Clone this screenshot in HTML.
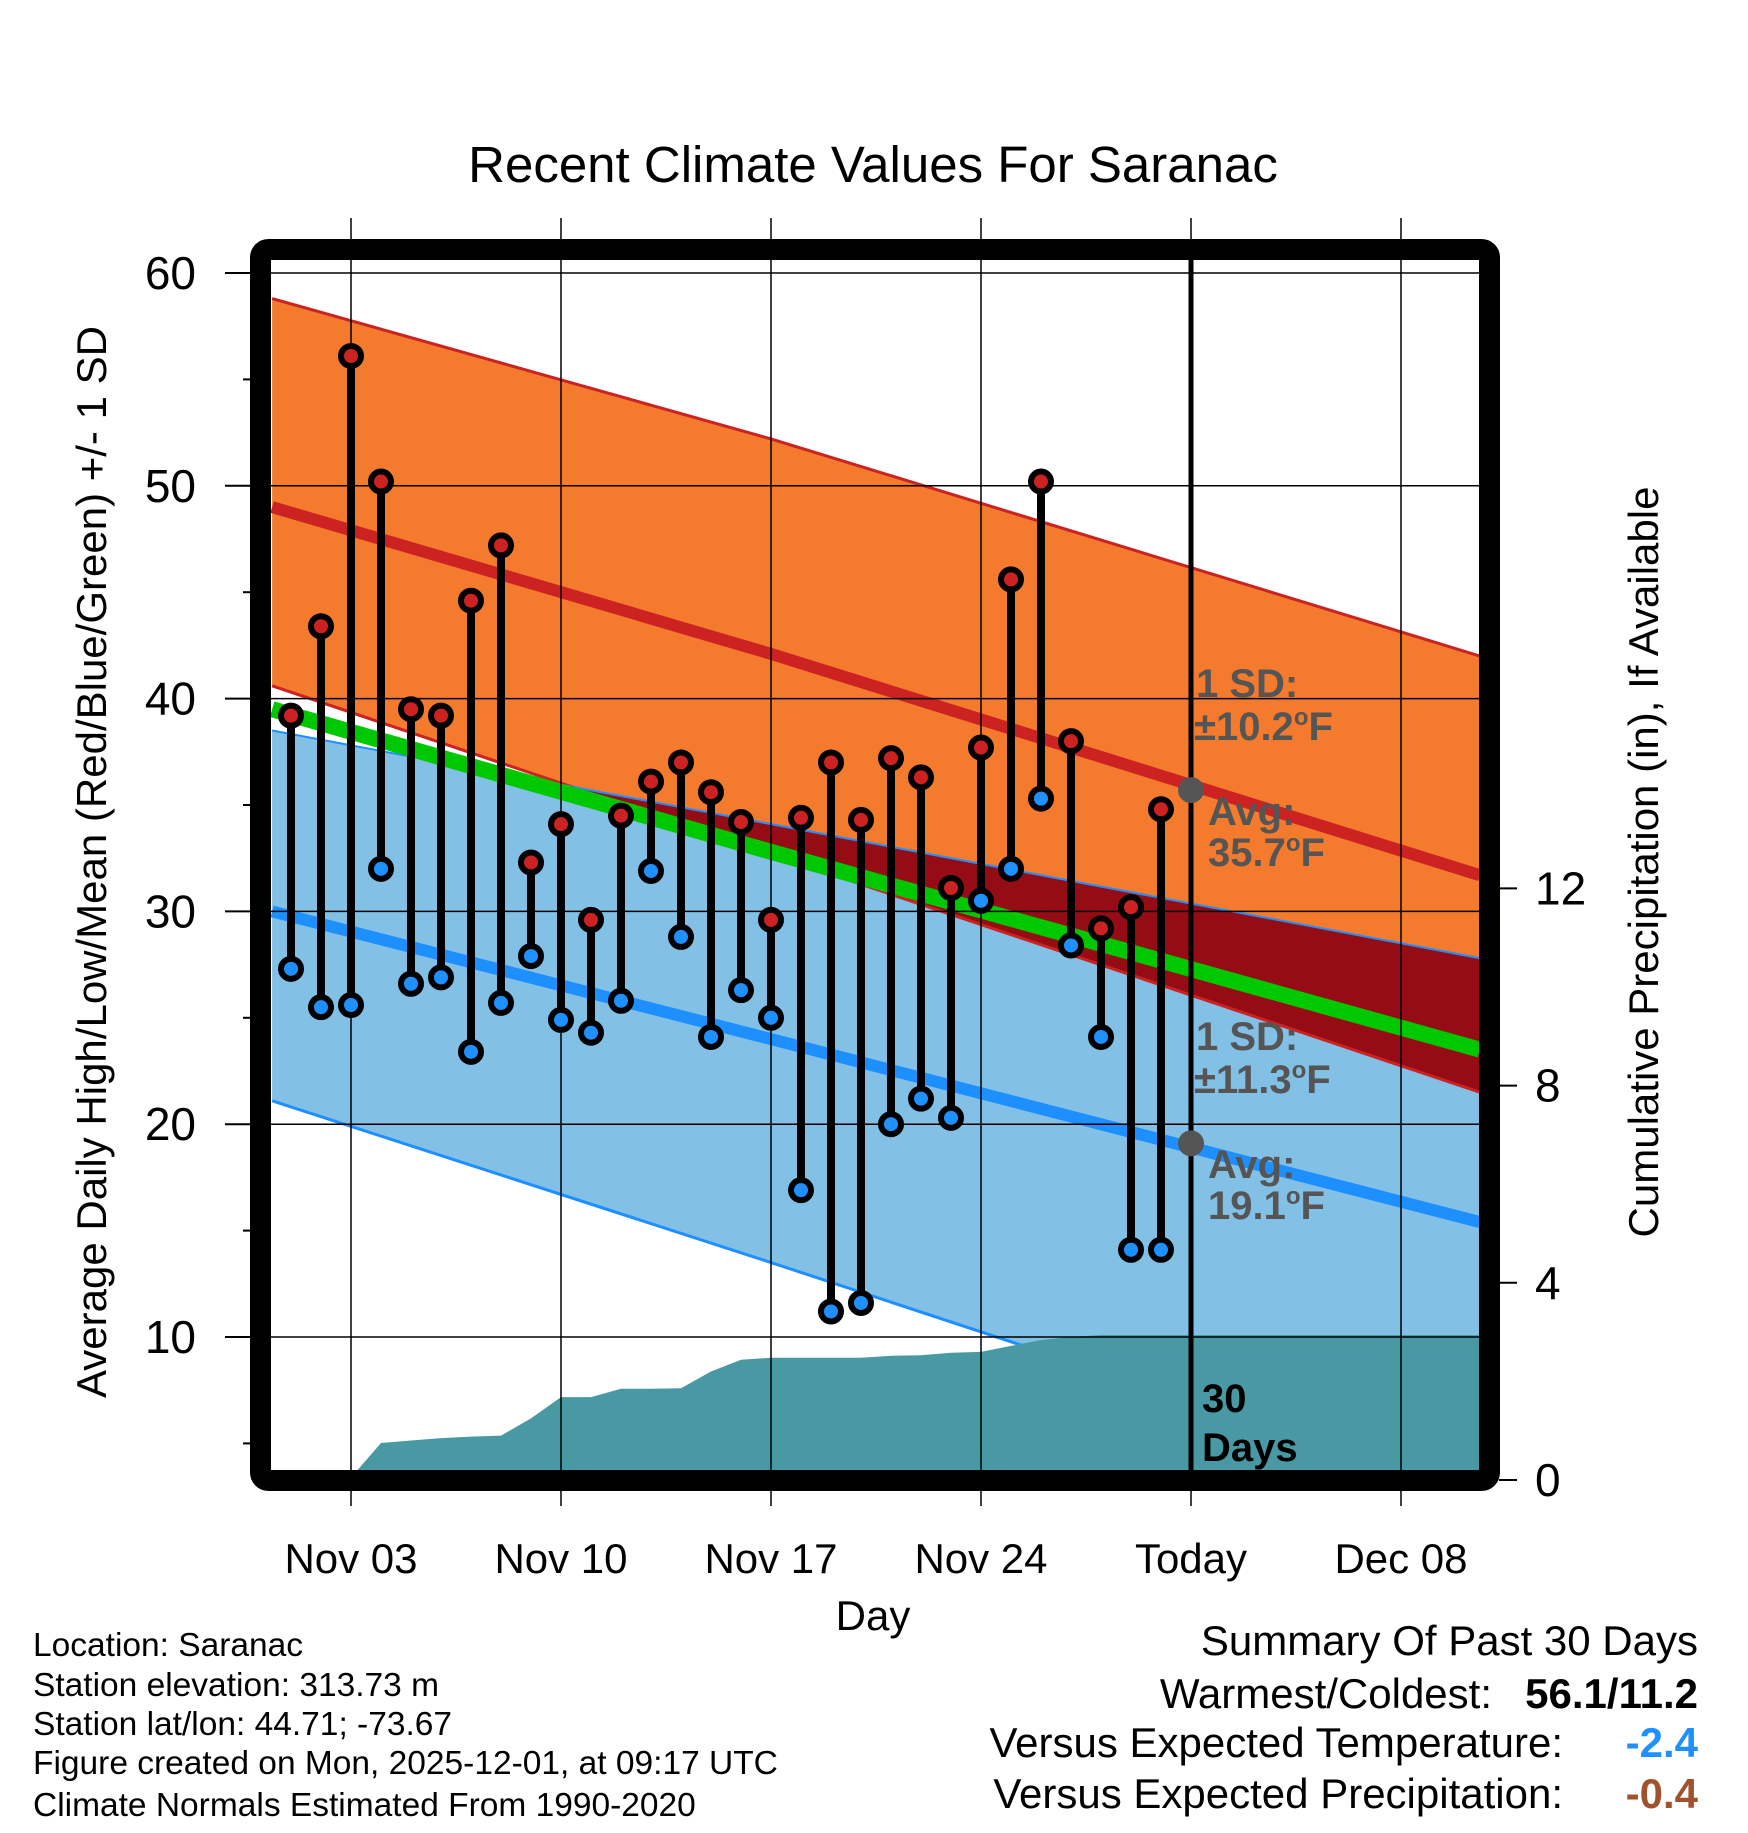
<!DOCTYPE html>
<html><head><meta charset="utf-8"><style>
body{margin:0;background:#fff;}
svg text{font-family:"Liberation Sans",Arial,sans-serif;}
</style></head><body>
<svg id="chart" width="1748" height="1828" viewBox="0 0 1748 1828" xmlns="http://www.w3.org/2000/svg">
<defs><clipPath id="plotClip"><rect x="271" y="260" width="1208" height="1210"/></clipPath></defs>
<rect width="1748" height="1828" fill="#fff"/>
<text x="873" y="182" font-size="51" text-anchor="middle">Recent Climate Values For Saranac</text>
<g id="plot" clip-path="url(#plotClip)"></g>
<g id="overlay"></g>
<rect x="260.5" y="249.5" width="1229" height="1231" rx="8" fill="none" stroke="#000" stroke-width="21"/>
<g id="axes"></g>
<text transform="translate(106,862) rotate(-90)" font-size="42" text-anchor="middle">Average Daily High/Low/Mean (Red/Blue/Green) +/- 1 SD</text>
<text transform="translate(1658,862) rotate(-90)" font-size="42" text-anchor="middle">Cumulative Precipitation (in), If Available</text>
<text x="873" y="1630" font-size="42" text-anchor="middle">Day</text>
<g font-size="33.5">
<text x="33" y="1656">Location: Saranac</text>
<text x="33" y="1696">Station elevation: 313.73 m</text>
<text x="33" y="1735">Station lat/lon: 44.71; -73.67</text>
<text x="33" y="1774">Figure created on Mon, 2025-12-01, at 09:17 UTC</text>
<text x="33" y="1816">Climate Normals Estimated From 1990-2020</text>
</g>
<g font-size="42">
<text x="1698" y="1655" text-anchor="end">Summary Of Past 30 Days</text>
<text x="1492" y="1708" text-anchor="end">Warmest/Coldest:</text>
<text x="1698" y="1708" text-anchor="end" font-weight="bold">56.1/11.2</text>
<text x="1563" y="1757" text-anchor="end">Versus Expected Temperature:</text>
<text x="1698" y="1757" text-anchor="end" font-weight="bold" fill="#1e90ff">-2.4</text>
<text x="1563" y="1808" text-anchor="end">Versus Expected Precipitation:</text>
<text x="1698" y="1808" text-anchor="end" font-weight="bold" fill="#a0522d">-0.4</text>
</g>
</svg>
<script>
const days=[1,2,3,4,5,6,7,8,9,10,11,12,13,14,15,16,17,18,19,20,21,22,23,24,25,26,27,28,29,30];
const highs=[39.2,43.4,56.1,50.2,39.5,39.2,44.6,47.2,32.3,34.1,29.6,34.5,36.1,37.0,35.6,34.2,29.6,34.4,37.0,34.3,37.2,36.3,31.1,37.7,45.6,50.2,38.0,29.2,30.2,34.8];
const lows=[27.3,25.5,25.6,32.0,26.6,26.9,23.4,25.7,27.9,24.9,24.3,25.8,31.9,28.8,24.1,26.3,25.0,16.9,11.2,11.6,20.0,21.2,20.3,30.5,32.0,35.3,28.4,24.1,14.1,14.1];
const precip=[0,0,0.05,0.75,0.8,0.85,0.88,0.9,1.25,1.68,1.68,1.85,1.85,1.86,2.2,2.44,2.48,2.48,2.48,2.48,2.52,2.53,2.58,2.6,2.72,2.84,2.9,2.94,2.94,2.94];
const normDays=[0.37,17,40.63];
const hiUp=[58.8,52.2,42.0];
const hiAvg=[49.0,42.1,31.7];
const hiLo=[40.6,32.7,21.5];
const meanAvg=[39.5,32.8,23.5];
const loUp=[38.5,34.1,27.8];
const loAvg=[30.0,24.0,15.4];
const loLo=[21.1,13.5,2.5];
const yTicks=[10,20,30,40,50,60];
const pTicks=[0,4,8,12];
const xTickDays=[3,10,17,24,31,38];
const xTickLabels=["Nov 03","Nov 10","Nov 17","Nov 24","Today","Dec 08"];
const todayDay=31;

const NS="http://www.w3.org/2000/svg";
const X=d=>291+(d-1)*30;
const Y=v=>273+(60-v)*21.28;
const P=p=>1480-p*49.3;
function mk(parent,tag,attrs){const e=document.createElementNS(NS,tag);for(const k in attrs)e.setAttribute(k,attrs[k]);parent.appendChild(e);return e;}
const plot=document.getElementById('plot'),axes=document.getElementById('axes'),ov=document.getElementById('overlay');
const pts=(ds,vs)=>ds.map((d,i)=>X(d)+','+Y(vs[i]));
const band=(up,lo)=>pts(normDays,up).concat(pts(normDays,lo).reverse()).join(' ');
const line=vs=>pts(normDays,vs).join(' ');

let e;
e=mk(plot,'polygon',{points:band(hiUp,hiLo),fill:'#f47a2d'});


e=mk(plot,'polygon',{points:band(loUp,loLo),fill:'#82c0e6'});


const defs=document.querySelector('defs');
const cp=mk(defs,'clipPath',{id:'blueClip'});
mk(cp,'polygon',{points:band(loUp,loLo)});
e=mk(plot,'polygon',{points:band(hiUp,hiLo),fill:'#960c14','clip-path':'url(#blueClip)'});


[[hiUp,'#cc2222',3,'high-plus-sd-line'],[hiLo,'#cc2222',3,'high-minus-sd-line'],[loUp,'#1e8fff',2,'low-plus-sd-line'],[loLo,'#1e8fff',3,'low-minus-sd-line'],[hiAvg,'#cc2222',12,'avg-high-line'],[loAvg,'#1e8fff',12,'avg-low-line'],[meanAvg,'#00c800',16,'mean-line']].forEach(a=>{
 const l=mk(plot,'polyline',{points:line(a[0]),fill:'none',stroke:a[1],'stroke-width':a[2]});
 
 
});
let pp=[X(0)+','+P(0)];
days.forEach((d,i)=>pp.push(X(d)+','+P(precip[i])));
pp.push(X(41)+','+P(precip[precip.length-1]));
pp.push(X(41)+','+P(0));
e=mk(plot,'polygon',{points:pp.join(' '),fill:'#4899a3'});


yTicks.forEach(v=>{const g=mk(plot,'line',{x1:271,x2:1479,y1:Y(v),y2:Y(v),stroke:'#000','stroke-width':1.5});
 
 });
xTickDays.forEach(d=>{const g=mk(plot,'line',{x1:X(d),x2:X(d),y1:260,y2:1470,stroke:'#000','stroke-width':1.5});
 
 });
days.forEach((d,i)=>{
 const s=mk(ov,'line',{x1:X(d),x2:X(d),y1:Y(highs[i]),y2:Y(lows[i]),stroke:'#000','stroke-width':8});
 
 
});
days.forEach((d,i)=>{
 const h=mk(ov,'circle',{cx:X(d),cy:Y(highs[i]),r:10,fill:'#cc2222',stroke:'#000','stroke-width':6});
 
 
 const l=mk(ov,'circle',{cx:X(d),cy:Y(lows[i]),r:10,fill:'#1e90ff',stroke:'#000','stroke-width':6});
 
 
});
e=mk(ov,'line',{x1:X(todayDay),x2:X(todayDay),y1:260,y2:1470,stroke:'#000','stroke-width':5});


e=mk(ov,'circle',{cx:X(todayDay),cy:Y(35.7),r:13,fill:'#555'});


e=mk(ov,'circle',{cx:X(todayDay),cy:Y(19.1),r:13,fill:'#555'});


const ann=[["1 SD:",1196,697,'#555'],["±10.2°F",1194,740,'#555'],["Avg:",1208,825,'#555'],["35.7°F",1208,866,'#555'],["1 SD:",1196,1050,'#555'],["±11.3°F",1194,1093,'#555'],["Avg:",1208,1178,'#555'],["19.1°F",1208,1219,'#555'],["30",1202,1412,'#000'],["Days",1202,1461,'#000']];
ann.forEach(a=>{const t=mk(ov,'text',{x:a[1],y:a[2],'font-size':40,'font-weight':'bold',fill:a[3]});
 if(a[0].includes('°F')){t.textContent=a[0].replace('°F','');const sp=mk(t,'tspan',{'font-size':24,dy:-15});sp.textContent='o';const sp2=mk(t,'tspan',{dy:15});sp2.textContent='F';}
 else t.textContent=a[0];
 
 });
yTicks.forEach(v=>{mk(axes,'line',{x1:225,x2:251,y1:Y(v),y2:Y(v),stroke:'#000','stroke-width':2});
 const t=mk(axes,'text',{x:196,y:Y(v)+16,'font-size':46,'text-anchor':'end'});t.textContent=v;
 
 
 if(v<60){mk(axes,'line',{x1:243,x2:251,y1:Y(v+5),y2:Y(v+5),stroke:'#000','stroke-width':2});}
});
mk(axes,'line',{x1:243,x2:251,y1:Y(5),y2:Y(5),stroke:'#000','stroke-width':2});
pTicks.forEach(p=>{mk(axes,'line',{x1:1499,x2:1517,y1:P(p),y2:P(p),stroke:'#000','stroke-width':2});
 const t=mk(axes,'text',{x:1535,y:P(p)+16,'font-size':46});t.textContent=p;
 
 });
xTickDays.forEach((d,i)=>{
 mk(axes,'line',{x1:X(d),x2:X(d),y1:218,y2:240,stroke:'#000','stroke-width':1.5});
 mk(axes,'line',{x1:X(d),x2:X(d),y1:1490,y2:1506,stroke:'#000','stroke-width':1.5});
 const t=mk(axes,'text',{x:X(d),y:1573,'font-size':42,'text-anchor':'middle'});t.textContent=xTickLabels[i];
 
 
});
</script>
</body></html>
